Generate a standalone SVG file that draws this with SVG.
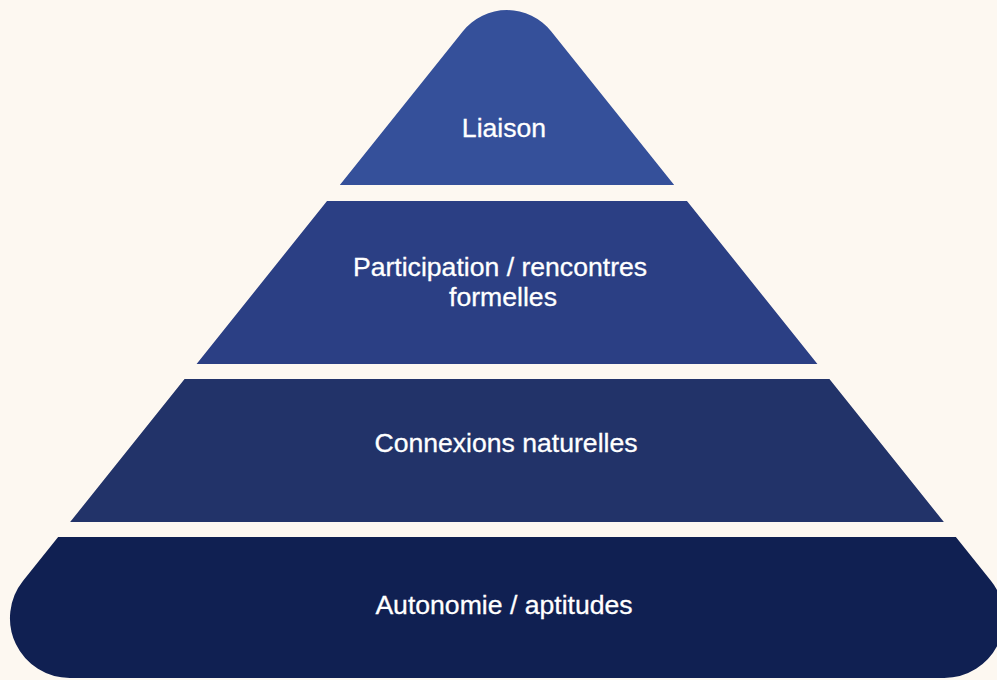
<svg xmlns="http://www.w3.org/2000/svg" width="997" height="680" viewBox="0 0 997 680">
<defs>
<clipPath id="pyr">
<path d="M 462.7 31.4 A 56.7 56.7 0 0 1 551.3 31.4 L 990.9 580.8 A 59.8 59.8 0 0 1 944.2 678 L 69.8 678 A 59.8 59.8 0 0 1 23.1 580.8 Z"/>
</clipPath>
</defs>
<style>
.lbl{font-family:"Liberation Sans",Arial,sans-serif;font-size:26.6px;fill:#ffffff;text-anchor:middle;stroke:#ffffff;stroke-width:0.3px}
</style>
<rect width="997" height="680" fill="#fdf8f1"/>
<g clip-path="url(#pyr)">
<g id="level1"><rect x="0" y="0" width="997" height="185" fill="#35509a"/></g>
<g id="level2"><rect x="0" y="201" width="997" height="163" fill="#2b3f84"/></g>
<g id="level3"><rect x="0" y="379" width="997" height="143" fill="#223369"/></g>
<g id="level4"><rect x="0" y="537" width="997" height="143" fill="#102052"/></g>
</g>
<g id="labels">
<text class="lbl" x="504" y="137">Liaison</text>
<text class="lbl" x="500" y="276">Participation / rencontres</text>
<text class="lbl" x="503" y="306">formelles</text>
<text class="lbl" x="506" y="452">Connexions naturelles</text>
<text class="lbl" x="504" y="614">Autonomie / aptitudes</text>
</g>
<g id="connectors"/>
</svg>
